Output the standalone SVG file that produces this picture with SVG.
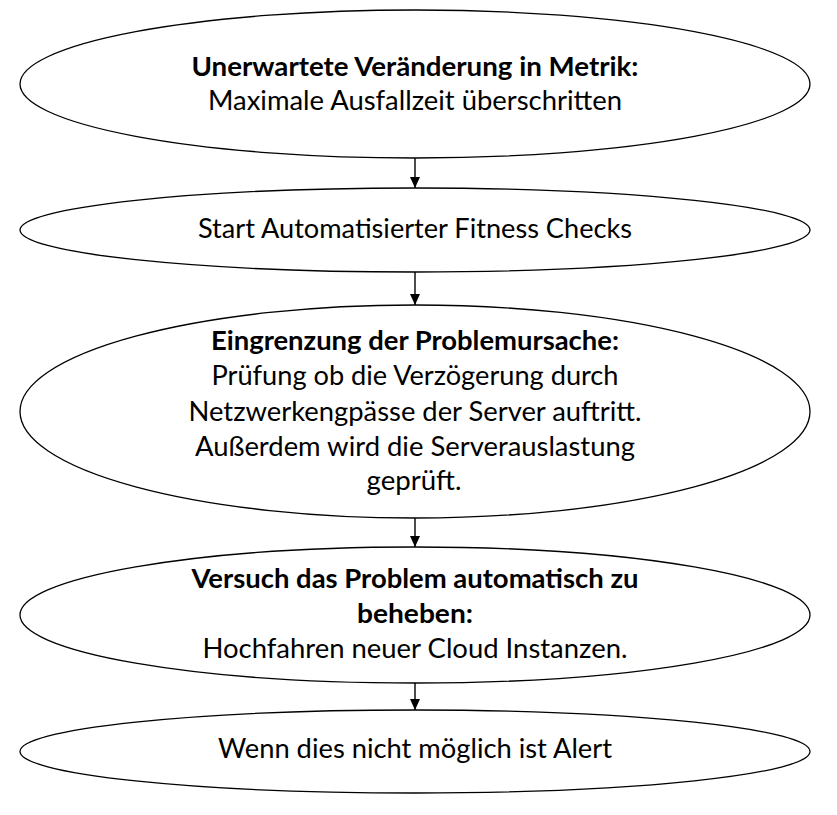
<svg xmlns="http://www.w3.org/2000/svg" width="837" height="815" viewBox="0 0 837 815">
<style>
.node ellipse{fill:#fff;stroke:#000;stroke-width:1.3}
text{font-family:Lato,"Open Sans","Liberation Sans",sans-serif;font-size:27px;fill:#000;text-anchor:middle}
.b{font-weight:bold}
.conn line{stroke:#000;stroke-width:1.4}
</style>
<defs>
<marker id="ah" markerWidth="12" markerHeight="12" refX="11" refY="5.5" orient="auto" markerUnits="userSpaceOnUse">
<path d="M0,0.5 L11,5.5 L0,10.5 Z" fill="#000"/>
</marker>
</defs>
<rect width="837" height="815" fill="#fff"/>
<g class="conn">
<line x1="415" y1="158" x2="415" y2="188" marker-end="url(#ah)"/>
<line x1="415" y1="272" x2="415" y2="305" marker-end="url(#ah)"/>
<line x1="415" y1="518" x2="415" y2="547" marker-end="url(#ah)"/>
<line x1="415" y1="683" x2="415" y2="710" marker-end="url(#ah)"/>
</g>
<g id="n1" class="node">
<ellipse cx="415" cy="84" rx="395" ry="74"/>
<text class="b" x="415" y="76" textLength="447" lengthAdjust="spacingAndGlyphs">Unerwartete Veränderung in Metrik:</text>
<text x="415" y="110" textLength="414" lengthAdjust="spacingAndGlyphs">Maximale Ausfallzeit überschritten</text>
</g>
<g id="n2" class="node">
<ellipse cx="415" cy="230" rx="395" ry="42"/>
<text x="415" y="238" textLength="434" lengthAdjust="spacingAndGlyphs">Start Automatisierter Fitness Checks</text>
</g>
<g id="n3" class="node">
<ellipse cx="415" cy="411.5" rx="395" ry="106.5"/>
<text class="b" x="415" y="350" textLength="408" lengthAdjust="spacingAndGlyphs">Eingrenzung der Problemursache:</text>
<text x="415" y="385" textLength="407" lengthAdjust="spacingAndGlyphs">Prüfung ob die Verzögerung durch</text>
<text x="415" y="421" textLength="453" lengthAdjust="spacingAndGlyphs">Netzwerkengpässe der Server auftritt.</text>
<text x="415" y="456" textLength="440" lengthAdjust="spacingAndGlyphs">Außerdem wird die Serverauslastung</text>
<text x="414" y="490" textLength="95" lengthAdjust="spacingAndGlyphs">geprüft.</text>
</g>
<g id="n4" class="node">
<ellipse cx="415" cy="615" rx="395" ry="68"/>
<text class="b" x="415" y="588" textLength="447" lengthAdjust="spacingAndGlyphs">Versuch das Problem automatisch zu</text>
<text class="b" x="415" y="623" textLength="116" lengthAdjust="spacingAndGlyphs">beheben:</text>
<text x="415" y="658" textLength="425" lengthAdjust="spacingAndGlyphs">Hochfahren neuer Cloud Instanzen.</text>
</g>
<g id="n5" class="node">
<ellipse cx="415" cy="751.5" rx="395" ry="41.5"/>
<text x="415" y="758" textLength="394" lengthAdjust="spacingAndGlyphs">Wenn dies nicht möglich ist Alert</text>
</g>
</svg>
